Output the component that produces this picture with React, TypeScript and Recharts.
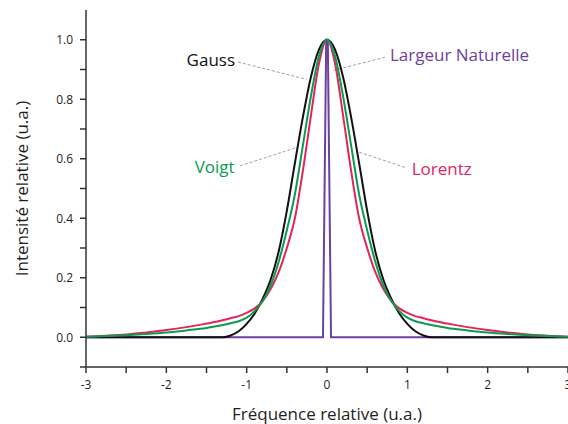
import { LineChart, Line, XAxis, YAxis, ReferenceLine, ReferenceDot } from "recharts";

// relative frequency (u.a.)
const xs = [
  -3, -2.75, -2.5, -2.25, -2, -1.75, -1.5, -1.4, -1.3, -1.2, -1.1, -1, -0.9, -0.8, -0.7, -0.6, -0.5, -0.4, -0.3, -0.2, -0.1,
  0, 0.1, 0.2, 0.3, 0.4, 0.5, 0.6, 0.7, 0.8, 0.9, 1, 1.1, 1.2, 1.3, 1.4, 1.5, 1.75, 2, 2.25, 2.5, 2.75, 3,
];
const gauss = [
  0, 0, 0, 0, 0, 0, 0, 0, 0, 0.006, 0.02, 0.045, 0.08, 0.13, 0.195, 0.29, 0.425, 0.585, 0.74, 0.875, 0.967,
  1, 0.967, 0.875, 0.74, 0.585, 0.425, 0.29, 0.195, 0.13, 0.08, 0.045, 0.02, 0.006, 0, 0, 0, 0, 0, 0, 0, 0, 0,
];
const lorentz = [
  0.002, 0.005, 0.009, 0.016, 0.024, 0.034, 0.046, 0.051, 0.057, 0.064, 0.071, 0.082, 0.097, 0.122, 0.163, 0.22, 0.3, 0.4, 0.56, 0.745, 0.92,
  1, 0.92, 0.745, 0.56, 0.4, 0.3, 0.22, 0.163, 0.122, 0.097, 0.082, 0.071, 0.064, 0.057, 0.051, 0.046, 0.034, 0.024, 0.016, 0.009, 0.005, 0.002,
];
const voigt = [
  0.002, 0.004, 0.007, 0.011, 0.016, 0.023, 0.031, 0.036, 0.041, 0.047, 0.054, 0.066, 0.088, 0.122, 0.175, 0.255, 0.36, 0.48, 0.645, 0.81, 0.945,
  1, 0.945, 0.81, 0.645, 0.48, 0.36, 0.255, 0.175, 0.122, 0.088, 0.066, 0.054, 0.047, 0.041, 0.036, 0.031, 0.023, 0.016, 0.011, 0.007, 0.004, 0.002,
];

// natural line width: a narrow spike
const natX = [-3, -0.05, -0.01, 0.01, 0.05, 3];
const natY = [0, 0, 1, 1, 0, 0];

const xTicks = [-3, -2.5, -2, -1.5, -1, -0.5, 0, 0.5, 1, 1.5, 2, 2.5, 3];
const xLabels = [-3, -2, -1, 0, 1, 2, 3];
const yTicks = [-0.1, 0, 0.1, 0.2, 0.3, 0.4, 0.5, 0.6, 0.7, 0.8, 0.9, 1.0];
const yLabels = [0, 0.2, 0.4, 0.6, 0.8, 1.0];

const rows = xs.map((x, i) => ({ x, gauss: gauss[i], lorentz: lorentz[i], voigt: voigt[i] }));
const natRows = natX.map((x, i) => ({ x, nat: natY[i] }));

const COLORS = {
  gauss: "#111111",
  lorentz: "#e3245c",
  voigt: "#0a9b4c",
  nat: "#6d3fa0",
  axis: "#333333",
  text: "#231f20",
  leader: "#a0a0a0",
};

const ANNOTATIONS = [
  { text: "Gauss", color: "#111111", at: { x: -1.145, y: 0.934 }, anchor: "end", seg: [{ x: -1.108, y: 0.925 }, { x: -0.253, y: 0.867 }] },
  { text: "Largeur Naturelle", color: COLORS.nat, at: { x: 0.784, y: 0.949 }, anchor: "start", seg: [{ x: 0.722, y: 0.941 }, { x: 0.059, y: 0.896 }] },
  { text: "Voigt", color: COLORS.voigt, at: { x: -1.15, y: 0.575 }, anchor: "end", seg: [{ x: -1.083, y: 0.576 }, { x: -0.377, y: 0.638 }] },
  { text: "Lorentz", color: COLORS.lorentz, at: { x: 1.054, y: 0.566 }, anchor: "start", seg: [{ x: 0.402, y: 0.622 }, { x: 0.992, y: 0.569 }] },
];

const fmt1 = (v: number) => v.toFixed(1);

export default function App() {
  return (
    <div style={{ position: "absolute", left: 0, top: 0, width: 568, height: 424, fontFamily: "'Open Sans', sans-serif" }}>
      <LineChart width={568} height={424} data={rows} margin={{ top: 10, right: 0, bottom: 0, left: 0 }}>
        <XAxis
          dataKey="x"
          type="number"
          domain={[-3, 3]}
          ticks={xTicks}
          interval={0}
          allowDataOverflow
          height={57}
          stroke={COLORS.axis}
          strokeWidth={1.5}
          tickSize={6}
          tickMargin={7}
          tick={{ fill: COLORS.text, fontSize: 12 }}
          tickFormatter={(v: number) => (xLabels.includes(v) ? String(v) : "")}
          label={{
            content: ({ viewBox }: any) => (
              <text x={viewBox.x + viewBox.width / 2} y={420} textAnchor="middle" fontSize={17} fill={COLORS.text}>
                Fréquence relative (u.a.)
              </text>
            ),
          }}
        />
        <XAxis xAxisId="top" orientation="top" type="number" domain={[-3, 3]} height={0} tick={false} tickLine={false} stroke="#444" strokeWidth={1.5} />
        <YAxis
          type="number"
          domain={[-0.1, 1.1]}
          ticks={yTicks}
          interval={0}
          allowDataOverflow
          width={86}
          stroke={COLORS.axis}
          strokeWidth={1.5}
          tickSize={6}
          tickMargin={7}
          tick={{ fill: COLORS.text, fontSize: 12 }}
          tickFormatter={(v: number) => (yLabels.some((l) => Math.abs(l - v) < 1e-6) ? fmt1(v) : "")}
          label={{
            content: ({ viewBox }: any) => {
              const cy = viewBox.y + viewBox.height / 2;
              return (
                <text x={21} y={cy} transform={`rotate(-90 21 ${cy})`} textAnchor="middle" dominantBaseline="central" fontSize={17} fill={COLORS.text}>
                  Intensité relative (u.a.)
                </text>
              );
            },
          }}
        />
        <YAxis yAxisId="right" orientation="right" width={0} domain={[-0.1, 1.1]} tick={false} tickLine={false} stroke="#555" />

        {ANNOTATIONS.map((a) => (
          <ReferenceLine key={a.text + "-l"} segment={a.seg} stroke={COLORS.leader} strokeDasharray="3 2" strokeWidth={1} />
        ))}

        <Line data={natRows} dataKey="nat" type="linear" stroke={COLORS.nat} strokeWidth={2} dot={false} isAnimationActive={false} />
        <Line dataKey="gauss" type="monotone" stroke={COLORS.gauss} strokeWidth={2} dot={false} isAnimationActive={false} />
        <Line dataKey="lorentz" type="monotone" stroke={COLORS.lorentz} strokeWidth={2} dot={false} isAnimationActive={false} />
        <Line dataKey="voigt" type="monotone" stroke={COLORS.voigt} strokeWidth={2} dot={false} isAnimationActive={false} />

        {ANNOTATIONS.map((a) => (
          <ReferenceDot
            key={a.text}
            x={a.at.x}
            y={a.at.y}
            r={0}
            fill="none"
            stroke="none"
            label={{
              content: ({ viewBox }: any) => (
                <text x={viewBox.x} y={viewBox.y} textAnchor={a.anchor as any} dominantBaseline="central" fontSize={17} fill={a.color}>
                  {a.text}
                </text>
              ),
            }}
          />
        ))}
      </LineChart>
    </div>
  );
}
